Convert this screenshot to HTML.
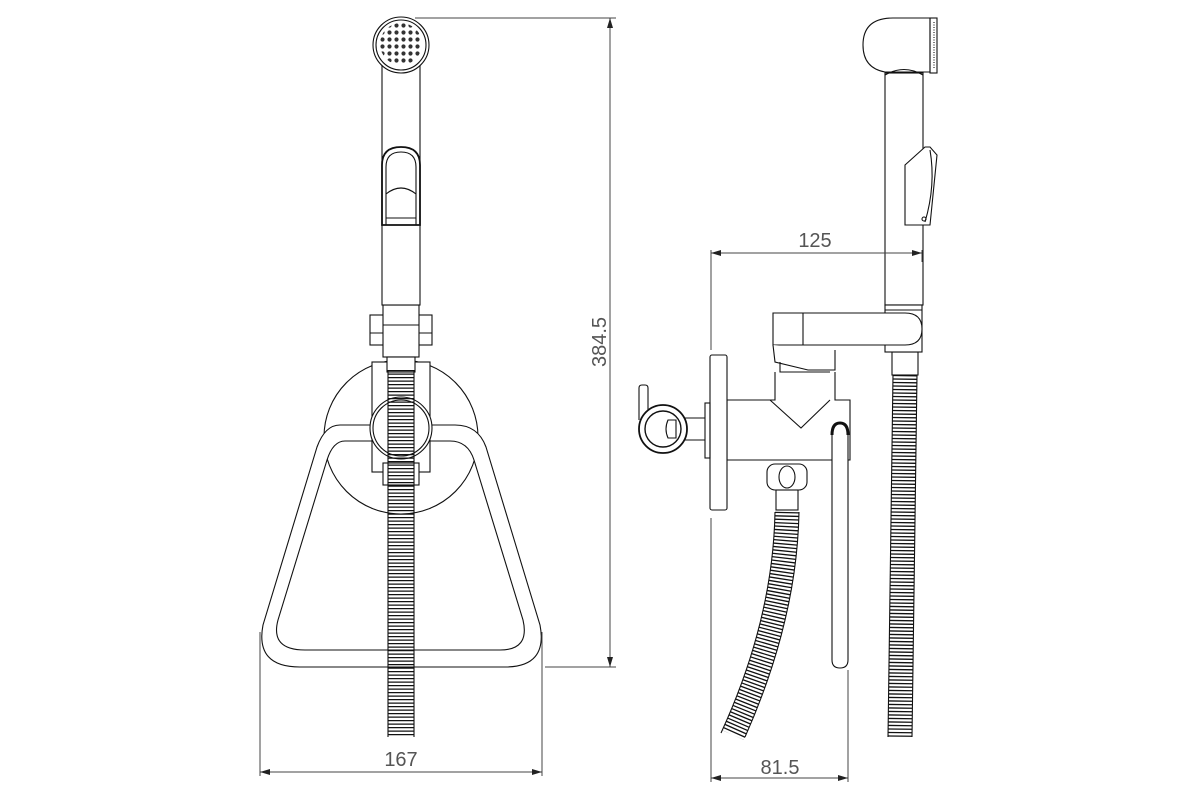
<!DOCTYPE html>
<html><head><meta charset="utf-8"><style>
html,body{margin:0;padding:0;background:#fff;width:1200px;height:800px;overflow:hidden}
svg{display:block}
text{font-family:"Liberation Sans",sans-serif;fill:#555;font-size:20px}
</style></head><body>
<svg width="1200" height="800" viewBox="0 0 1200 800" xmlns="http://www.w3.org/2000/svg">
<defs>
<marker id="ar" viewBox="0 0 10 6" refX="10" refY="3" markerWidth="10" markerHeight="6" orient="auto-start-reverse" markerUnits="userSpaceOnUse"><path d="M0,0 L10,3 L0,6 z" fill="#222"/></marker>
<pattern id="dots" x="1" y="1" width="7" height="7" patternUnits="userSpaceOnUse"><circle cx="3.5" cy="3.5" r="2.1" fill="#333"/></pattern>
</defs>
<g fill="none" stroke="#111" stroke-width="1.1">
<circle cx="401" cy="437" r="77" fill="#fff"/>
<path fill="#fff" fill-rule="evenodd" d="M340 425 L455 425 Q478 425 486 447 L540 625 Q548 667 505 667 L300 667 Q255 667 263 625 L317 447 Q325 425 340 425 Z M345 441 L450 441 Q468 441 474 460 L523 620 Q530 650 500 650 L305 650 Q270 650 278 620 L327 460 Q333 441 345 441 Z"/>
<rect x="372" y="362" width="58" height="110" fill="#fff"/>
<circle cx="401" cy="428" r="31" fill="#fff"/>
<circle cx="401" cy="428" r="28"/>
<rect x="383" y="463" width="36" height="22" fill="#fff"/>
<rect x="370" y="315" width="62" height="30" fill="#fff"/>
<line x1="370" y1="333" x2="432" y2="333"/>
<rect x="383" y="305" width="36" height="52" fill="#fff"/>
<line x1="383" y1="325" x2="419" y2="325"/>
<rect x="387" y="357" width="28" height="15" fill="#fff"/>
<line x1="401" y1="370" x2="401" y2="737" stroke="#111" stroke-width="26" stroke-dasharray="1.3 2.2"/>
<line x1="388" y1="370" x2="388" y2="737"/>
<line x1="414" y1="370" x2="414" y2="737"/>
<rect x="382" y="65" width="38" height="240" fill="#fff"/>
<path d="M382 225 L382 165 Q382 147 401 147 Q420 147 420 165 L420 225 Z" stroke-width="1.8"/>
<path d="M386 225 L386 167 Q386 152 401 152 Q416 152 416 167 L416 225"/>
<path d="M386 194 Q401 182 416 194"/>
<line x1="386" y1="218" x2="416" y2="218"/>
<circle cx="401" cy="45" r="28" fill="#fff"/>
<circle cx="401" cy="45" r="25"/>
<circle cx="401" cy="44" r="21" fill="url(#dots)" stroke="none"/>
<g stroke="#444" stroke-width="1">
<line x1="415" y1="18" x2="616" y2="18"/>
<line x1="545" y1="667" x2="616" y2="667"/>
<line x1="610" y1="18" x2="610" y2="667" marker-start="url(#ar)" marker-end="url(#ar)"/>
<line x1="260" y1="632" x2="260" y2="776"/>
<line x1="542" y1="632" x2="542" y2="776"/>
<line x1="260" y1="772" x2="542" y2="772" marker-start="url(#ar)" marker-end="url(#ar)"/>
</g>
<path d="M930 18 L893 18 Q863 18 863 45 Q863 68 885 72 L930 72 Z" fill="#fff"/>
<rect x="930" y="18" width="7" height="55"/>
<line x1="934" y1="22" x2="934" y2="68" stroke-dasharray="1 1.5"/>
<rect x="885" y="73" width="38" height="232" fill="#fff"/>
<path d="M885 75 Q904 64 923 75"/>
<path d="M905 165 L925 147 L930 147 L937 155 L930 225 L905 225 Z" fill="#fff"/>
<path d="M930 150 Q936 185 925 222"/>
<circle cx="924" cy="219" r="2"/>
<g stroke="#444" stroke-width="1">
<line x1="711" y1="253" x2="922" y2="253" marker-start="url(#ar)" marker-end="url(#ar)"/>
<line x1="711" y1="250" x2="711" y2="350"/>
<line x1="711" y1="518" x2="711" y2="782"/>
<line x1="922" y1="250" x2="922" y2="262"/>
<line x1="848" y1="670" x2="848" y2="782"/>
<line x1="711" y1="778" x2="848" y2="778" marker-start="url(#ar)" marker-end="url(#ar)"/>
</g>
<line x1="905" y1="375" x2="900" y2="737" stroke="#111" stroke-width="24" stroke-dasharray="1.3 2.2"/>
<line x1="893" y1="375" x2="888" y2="737"/>
<line x1="917" y1="375" x2="912" y2="737"/>
<rect x="892" y="352" width="26" height="23" fill="#fff"/>
<rect x="885" y="305" width="37" height="47" fill="#fff"/>
<line x1="885" y1="310" x2="922" y2="310"/>
<path d="M773 313 L905 313 Q922 313 922 329 Q922 345 905 345 L773 345 Z" fill="#fff"/>
<line x1="803" y1="313" x2="803" y2="345"/>
<path d="M773 345 L775 362 L808 370 L835 370 L835 350" fill="#fff"/>
<path d="M780 362 L780 372 L830 372"/>
<path d="M775 372 L775 400 L727 400 L727 460 L850 460 L850 400 L835 400 L835 372"/>
<path d="M770 400 L801 428 L830 400"/>
<rect x="710" y="355" width="17" height="155" rx="2" fill="#fff"/>
<rect x="705" y="403" width="5" height="55"/>
<line x1="685" y1="418" x2="705" y2="418"/>
<line x1="685" y1="440" x2="705" y2="440"/>
<path d="M639 420 L639 388 Q639 385 642 385 L645 385 Q648 385 648 388 L648 410" fill="#fff"/>
<circle cx="663" cy="429" r="24" fill="#fff" stroke-width="1.8"/>
<circle cx="663" cy="429" r="18" stroke-width="1.4"/>
<path d="M668 420 L676 420 L676 438 L668 438 Q664 429 668 420 Z"/>
<path d="M832 432 L832 660 Q832 668 840 668 Q848 668 848 660 L848 432" fill="#fff"/>
<path d="M832 435 Q832 423 840 423 Q848 423 848 435" stroke-width="3"/>
<rect x="767" y="464" width="40" height="26" rx="8" fill="#fff"/>
<ellipse cx="787" cy="477" rx="8" ry="11"/>
<rect x="776" y="490" width="22" height="20" fill="#fff"/>
<path d="M787 512 Q785 620 733 735" stroke-width="24" stroke-dasharray="1.3 2.2"/>
<path d="M775 512 Q773 620 721 733"/>
<path d="M799 512 Q797 620 745 737"/>
</g>
<text x="401" y="766" text-anchor="middle">167</text>
<text x="815" y="247" text-anchor="middle">125</text>
<text x="780" y="774" text-anchor="middle">81.5</text>
<text transform="translate(606,342) rotate(-90)" text-anchor="middle">384.5</text>
</svg>
</body></html>
